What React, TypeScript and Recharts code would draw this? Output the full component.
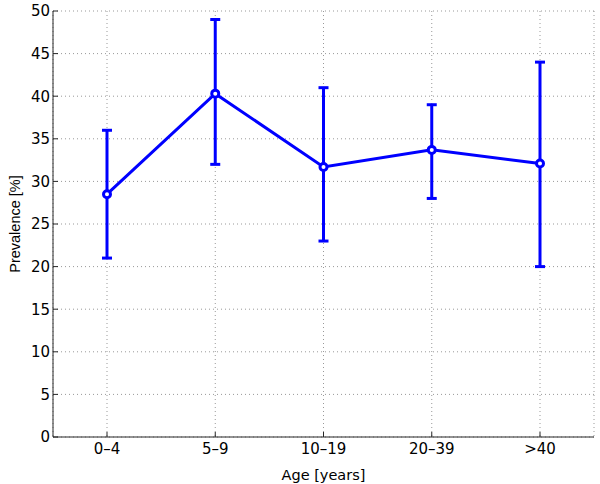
import { LineChart, Line, XAxis, YAxis, CartesianGrid, ErrorBar } from 'recharts';

const ageGroups = ['0–4', '5–9', '10–19', '20–39', '>40'];
const prevalence = [28.5, 40.3, 31.7, 33.7, 32.1];
const lowerCI = [21, 32, 23, 28, 20];
const upperCI = [36, 49, 41, 39, 44];
const yTicks = [0, 5, 10, 15, 20, 25, 30, 35, 40, 45, 50];

const data = ageGroups.map((age, i) => ({
  age,
  value: prevalence[i],
  err: [prevalence[i] - lowerCI[i], upperCI[i] - prevalence[i]],
}));

// the reference text is stretched sideways, so horizontal texts use a wider face
const tickFont = { fontFamily: '"DejaVu Sans", sans-serif', fontSize: 15, fill: '#000' };
const xLabelFont = { fontFamily: '"DejaVu Sans", sans-serif', fontSize: 14.5, fill: '#000' };
const yLabelFont = { fontFamily: '"Liberation Sans", Arial, sans-serif', fontSize: 14.5, fill: '#000' };
const axisColor = '#262626';
const blue = '#0000ff';
// half a category step on each side, like xlim [0.5 5.5]
const xPad = { left: 54, right: 54 };

export default function App() {
  return (
    <div style={{ position: 'absolute', left: 0, top: 0, width: 600, height: 484, background: '#fff' }}>
      <LineChart width={600} height={484} data={data} margin={{ top: 11, right: 6, bottom: 0, left: 0 }}>
        <CartesianGrid stroke="#999" strokeDasharray="1 3" />
        <XAxis
          dataKey="age"
          height={47}
          padding={xPad}
          tickSize={-5}
          tickMargin={11}
          stroke={axisColor}
          tick={tickFont}
          interval={0}
          label={{ value: 'Age [years]', position: 'insideBottom', offset: 4, style: xLabelFont }}
        />
        <XAxis xAxisId="top" dataKey="age" orientation="top" height={0} padding={xPad} tickSize={-5} tick={false} stroke={axisColor} />
        <YAxis
          width={53}
          domain={[0, 50]}
          ticks={yTicks}
          interval={0}
          tickSize={-5}
          tickMargin={8}
          stroke={axisColor}
          tick={tickFont}
          label={{ value: 'Prevalence [%]', angle: -90, position: 'insideLeft', offset: 15, style: { ...yLabelFont, textAnchor: 'middle' } }}
        />
        <YAxis
          yAxisId="right"
          orientation="right"
          width={0}
          domain={[0, 50]}
          ticks={yTicks}
          interval={0}
          allowDataOverflow
          tickSize={-5}
          tick={false}
          stroke={axisColor}
        />
        <Line
          dataKey="value"
          stroke={blue}
          strokeWidth={3}
          dot={{ r: 3.5, stroke: blue, strokeWidth: 3, fill: '#fff' }}
          activeDot={false}
          isAnimationActive={false}
        >
          <ErrorBar dataKey="err" width={5} stroke={blue} strokeWidth={3} direction="y" isAnimationActive={false} />
        </Line>
      </LineChart>
    </div>
  );
}
